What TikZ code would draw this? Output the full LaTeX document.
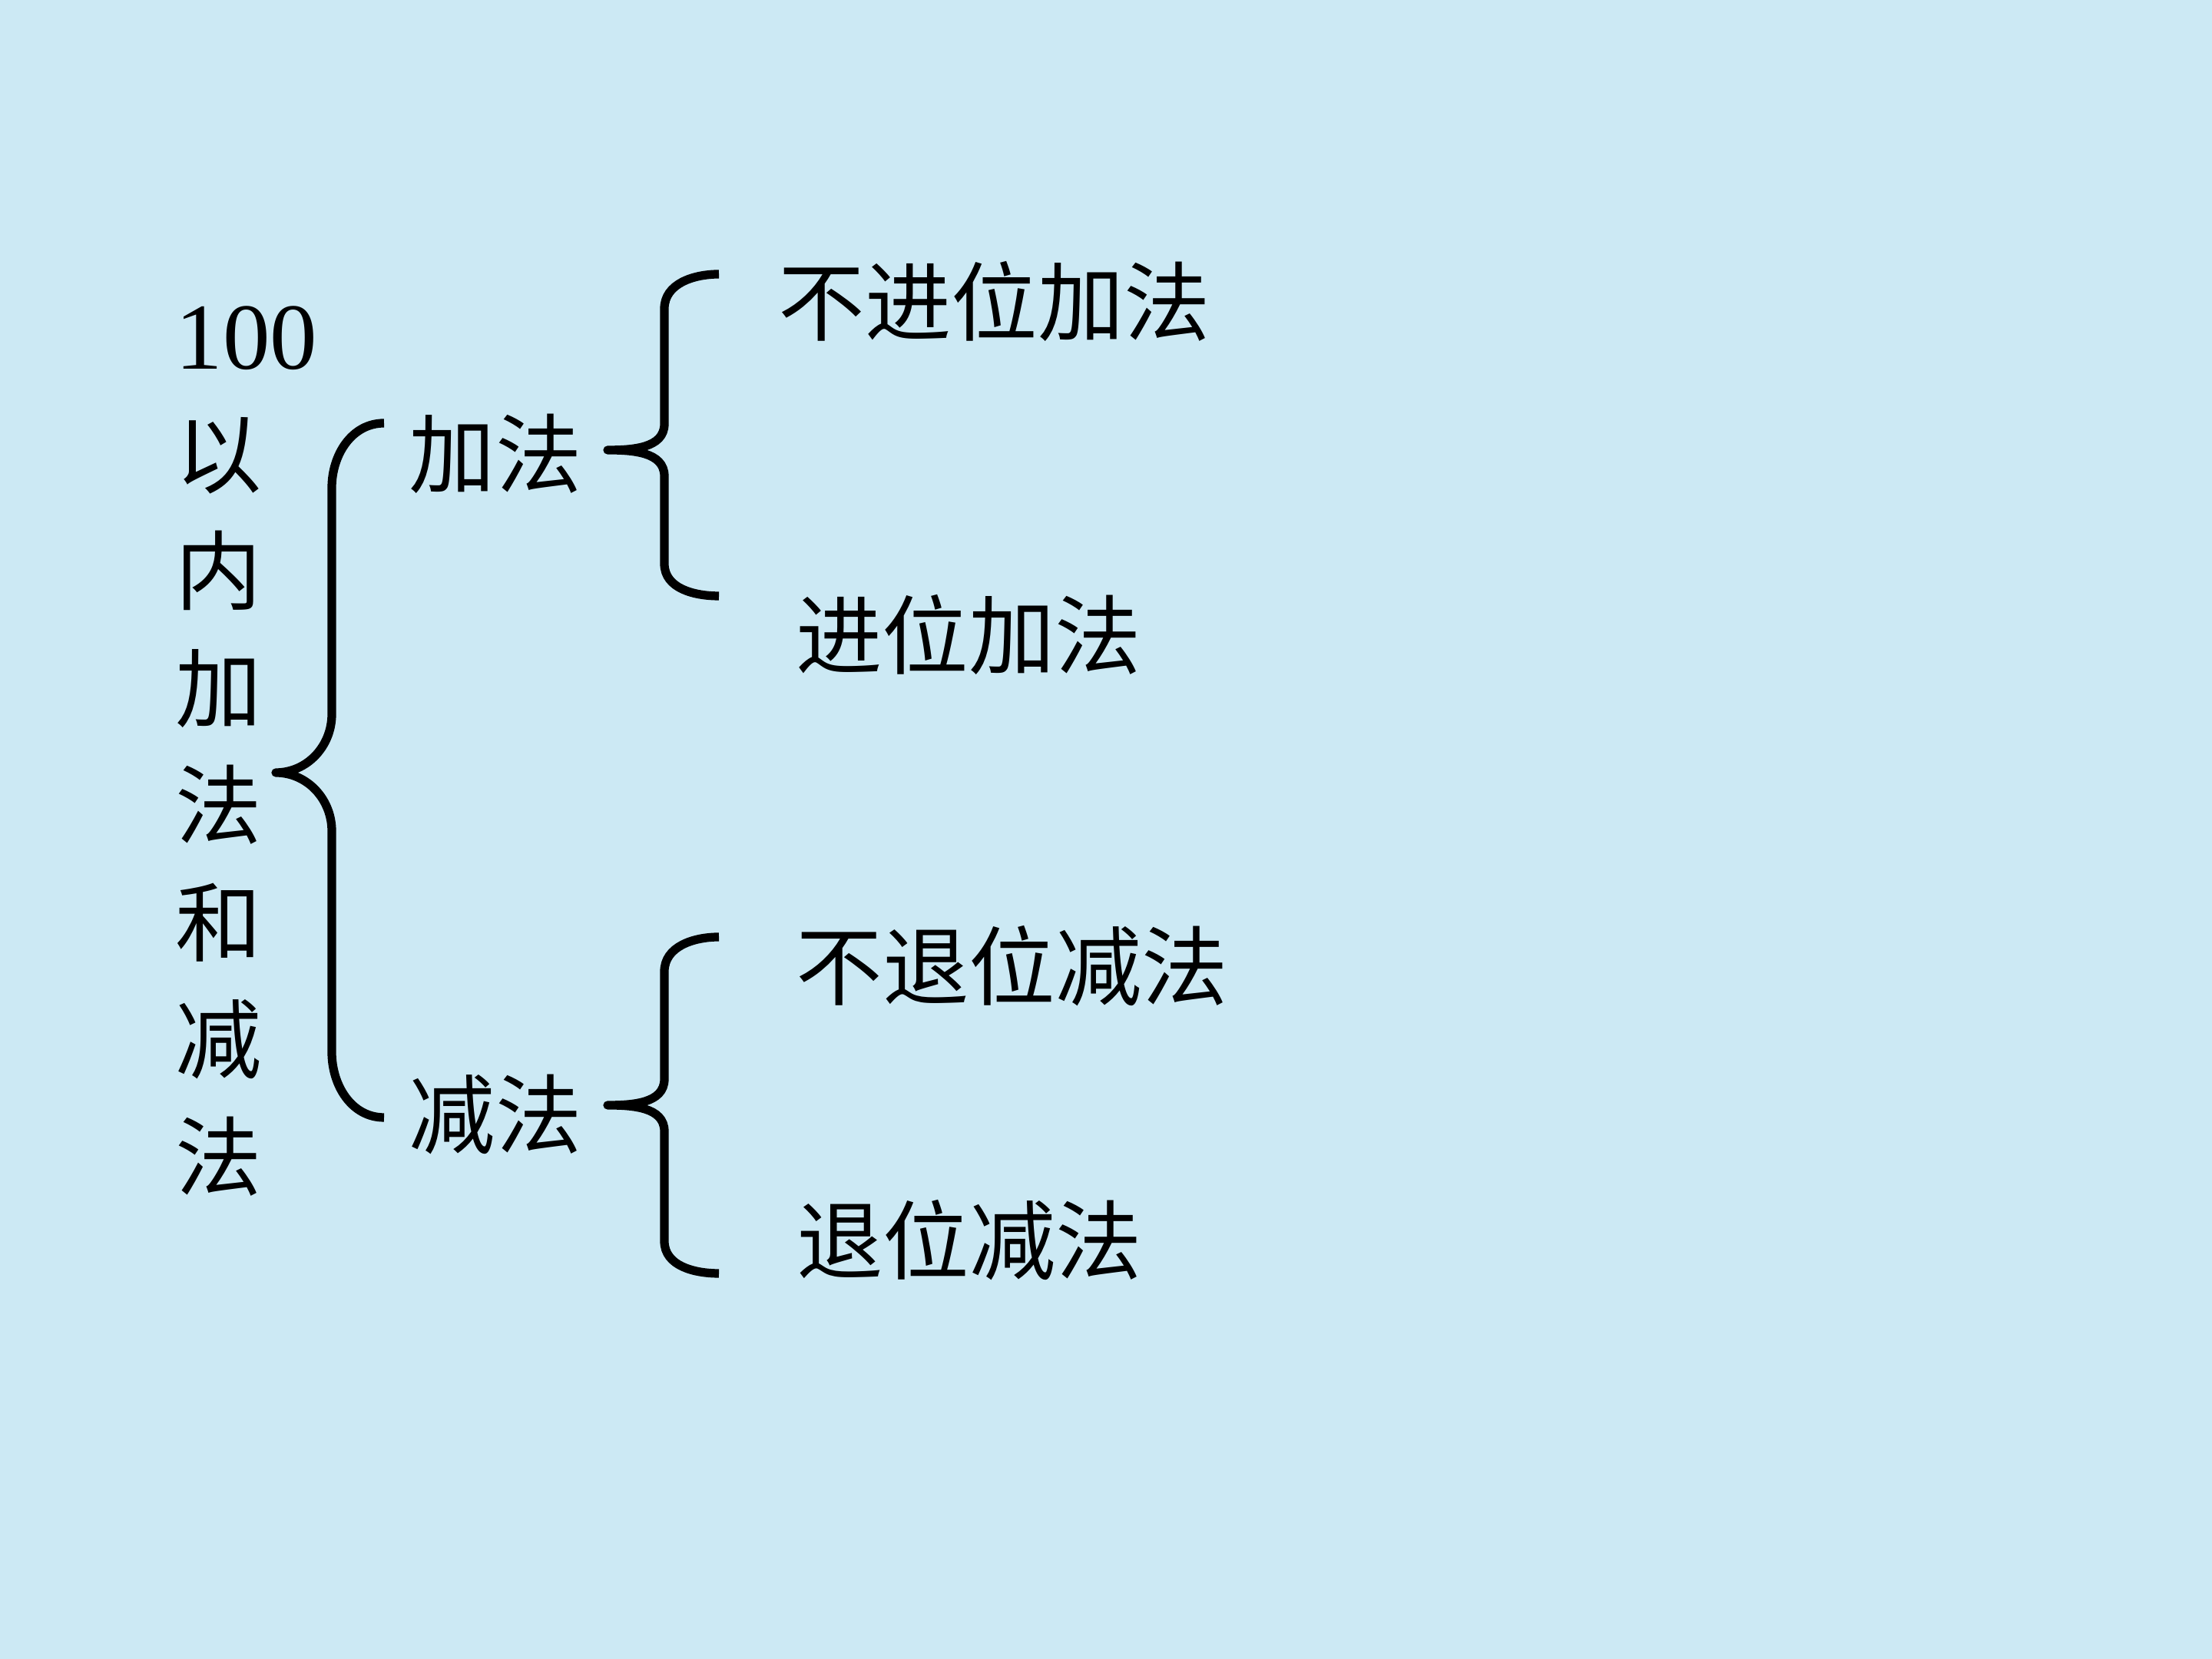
\documentclass[tikz,border=0pt]{standalone}
\usepackage{fontspec}
\setmainfont{Liberation Serif}
\newfontfamily\cjk{Noto Sans CJK SC}
\newfontfamily\numfont{Liberation Serif}
\usepackage{tikz}
\definecolor{paper}{RGB}{204,233,244}

\begin{document}
\begin{tikzpicture}[line join=round,
  label/.style={font=\cjk\fontsize{32}{43.4}\selectfont, inner sep=0pt},
  brace/.style={draw=black, line width=3.2pt}]
\fill[paper] (0,0) rectangle (28.8,21.6);
\useasboundingbox (0,0) rectangle (28.8,21.6);
\node[label, align=left, anchor=north west] (root) at (2.28,17.62)
  {{\numfont\fontsize{35}{43.4}\selectfont 100}\\以\\内\\加\\法\\和\\减\\法};
\node[label] (add) at (6.45,15.69) {加法};
\node[label] (sub) at (6.45,7.09) {减法};
\node[label] (addA) at (12.95,17.68) {不进位加法};
\node[label] (addB) at (12.61,13.34) {进位加法};
\node[label] (subA) at (13.18,9.02) {不退位减法};
\node[label] (subB) at (12.62,5.45) {退位减法};
\coordinate (rootTip) at (3.59,11.54);
\coordinate (addTip) at (7.91,15.74);
\coordinate (subTip) at (7.91,7.21);
\draw[brace] (5.00,16.09) to[out=180,in=90] (4.32,15.25) -- (4.32,12.30)
  to[out=-90,in=0] (rootTip) to[out=0,in=90] (4.32,10.78) -- (4.32,7.90)
  to[out=-90,in=180] (5.00,7.05);
\draw[brace] (9.36,18.03) to[out=180,in=90] (8.65,17.58) -- (8.65,16.08)
  to[out=-90,in=0] (addTip) to[out=0,in=90] (8.65,15.40) -- (8.65,14.26)
  to[out=-90,in=180] (9.36,13.84);
\draw[brace] (9.36,9.40) to[out=180,in=90] (8.65,8.95) -- (8.65,7.55)
  to[out=-90,in=0] (subTip) to[out=0,in=90] (8.65,6.87) -- (8.65,5.44)
  to[out=-90,in=180] (9.36,5.02);
\end{tikzpicture}
\end{document}
